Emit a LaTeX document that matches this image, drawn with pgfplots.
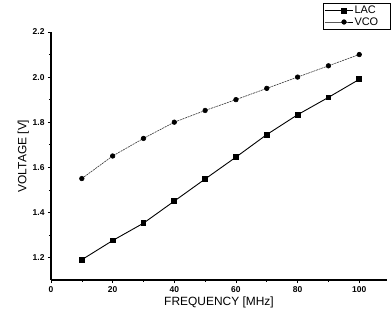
\documentclass[border=0pt]{standalone}
\usepackage{pgfplots}
\pgfplotsset{compat=1.18}
\usepackage{fontspec}
\setmainfont{Liberation Sans}
\begin{document}
\begin{tikzpicture}
\useasboundingbox (-51bp,-43bp) rectangle (341bp,280bp);
\begin{axis}[
  scale only axis,
  width=336bp, height=248bp,
  xmin=0, xmax=109, ymin=1.1, ymax=2.2,
  axis x line*=bottom, axis y line*=left,
  axis line style={line width=1.1pt},
  xtick={0,20,40,60,80,100},
  ytick={1.2,1.4,1.6,1.8,2.0,2.2},
  minor x tick num=1, minor y tick num=1,
  tick align=outside,
  major tick length=3bp, minor tick length=2bp,
  tick style={black, line width=0.6pt},
  /pgf/number format/assume math mode=true,
  yticklabel style={/pgf/number format/fixed,/pgf/number format/fixed zerofill,/pgf/number format/precision=1},
  ticklabel style={font=\fontsize{8.5}{9}\selectfont\bfseries},
  xlabel={FREQUENCY [MHz]}, ylabel={VOLTAGE [V]},
  label style={font=\fontsize{12}{13}\selectfont},
  xlabel style={yshift=3bp},
  ylabel style={yshift=-3bp},
  legend style={at={(rel axis cs:0.8095,1)}, anchor=north west, yshift=29bp,
    font=\fontsize{11}{11}\selectfont, draw=black, line width=0.6pt, inner sep=1pt, row sep=-2pt,
    nodes={inner xsep=1pt, text width=34bp}},
  legend image code/.code={
    \draw[mark repeat=3,mark phase=2,#1] plot coordinates {(0cm,0cm) (0.68cm,0cm) (1.0cm,0cm)};
  },
  legend cell align=left,
]
\addlegendimage{black, line width=0.9pt, solid, mark=square*, mark size=2.4bp}
\addlegendentry{LAC}
\addlegendimage{black, line width=0.6pt, solid, mark=*, mark size=2.3bp}
\addlegendentry{VCO}
\addplot[black, line width=0.9pt, mark=square*, mark size=2.4bp, mark options={solid}, forget plot] coordinates {
(10,1.19) (20,1.275) (30,1.352) (40,1.45) (50,1.548) (60,1.645) (70,1.745) (80,1.833) (90,1.91) (100,1.99)};
\addplot[black!80, line width=0.6pt, dash pattern=on 2pt off 0.8pt, mark=*, mark size=2.3bp, mark options={solid,black}, forget plot] coordinates {
(10,1.55) (20,1.65) (30,1.728) (40,1.80) (50,1.852) (60,1.90) (70,1.95) (80,2.0) (90,2.05) (100,2.1)};
\end{axis}
\end{tikzpicture}
\end{document}
